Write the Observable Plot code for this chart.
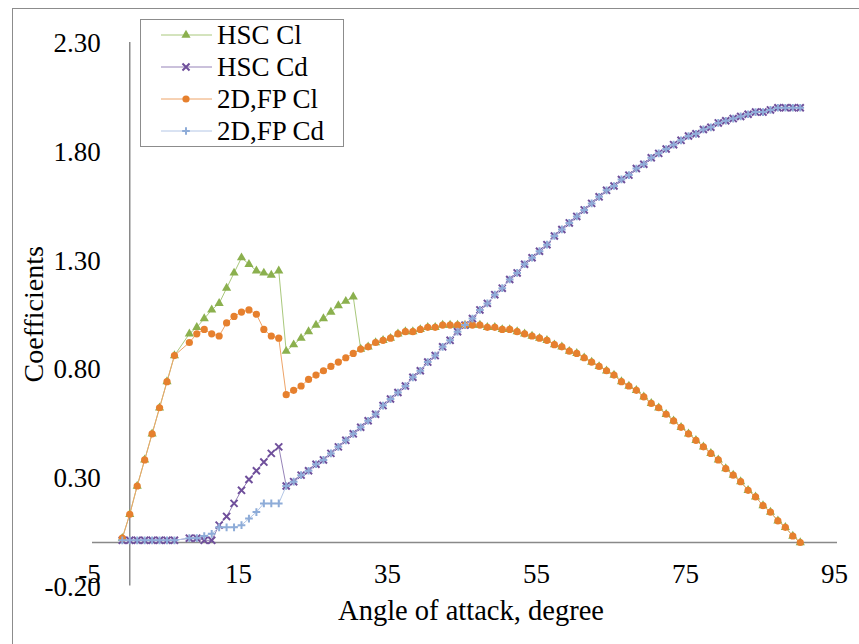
<!DOCTYPE html>
<html>
<head>
<meta charset="utf-8">
<script src="https://cdn.jsdelivr.net/npm/d3@7"></script>
<script src="https://cdn.jsdelivr.net/npm/@observablehq/plot@0.6"></script>
<style>
  html, body { margin: 0; padding: 0; background: #fff; overflow: hidden; }
  #chart { position: relative; width: 859px; height: 644px; }
  #chart svg.plot { position: absolute; left: 0; top: 0; }
  #frame { position: absolute; left: 12px; top: 8px; width: 900px; height: 700px;
           border: 1px solid #8c8c8c; pointer-events: none; }
  #legend { position: absolute; left: 140px; top: 19px; }
</style>
</head>
<body>
<div id="chart"><div id="frame"></div></div>
<script>
// Angle of attack (degrees)
const angles = [-1,0,1,2,3,4,5,6,8,9,10,11,12,13,14,15,16,17,18,19,20,
  21,22,23,24,25,26,27,28,29,30,31,32,33,34,35,36,37,38,39,40,
  41,42,43,44,45,46,47,48,49,50,51,52,53,54,55,56,57,58,59,60,
  61,62,63,64,65,66,67,68,69,70,71,72,73,74,75,76,77,78,79,80,
  81,82,83,84,85,86,87,88,89,90];

// HSC lift coefficient
const hscCl = [0.02,0.13,0.26,0.38,0.50,0.62,0.74,0.86,
  0.96,0.99,1.03,1.07,1.10,1.17,1.24,1.31,1.28,1.25,1.24,1.23,1.25,
  0.88,0.91,0.94,0.97,1.00,1.03,1.06,1.09,1.11,1.13,
  0.89,0.90,0.92,0.93,0.94,0.96,0.97,0.97,0.98,0.99,
  0.99,1.00,1.00,1.00,1.00,1.00,1.00,0.99,0.99,0.98,
  0.98,0.97,0.96,0.95,0.94,0.93,0.91,0.90,0.88,0.87,
  0.85,0.83,0.81,0.79,0.77,0.74,0.72,0.70,0.67,0.64,
  0.62,0.59,0.56,0.53,0.50,0.47,0.44,0.41,0.38,0.34,
  0.31,0.28,0.24,0.21,0.17,0.14,0.10,0.07,0.03,0.00];

// HSC drag coefficient
const hscCd = [0.01,0.01,0.01,0.01,0.01,0.01,0.01,0.01,
  0.02,0.02,0.01,0.01,0.08,0.12,0.18,0.24,0.29,0.33,0.37,0.41,0.44,
  0.26,0.28,0.31,0.33,0.36,0.38,0.41,0.44,0.47,0.50,
  0.53,0.56,0.59,0.63,0.66,0.69,0.72,0.76,0.79,0.83,
  0.86,0.90,0.93,0.97,1.00,1.03,1.07,1.10,1.14,1.17,
  1.21,1.24,1.28,1.31,1.34,1.37,1.41,1.44,1.47,1.50,
  1.53,1.56,1.59,1.62,1.64,1.67,1.69,1.72,1.74,1.77,
  1.79,1.81,1.83,1.85,1.87,1.88,1.90,1.91,1.93,1.94,
  1.95,1.96,1.97,1.98,1.98,1.99,2.00,2.00,2.00,2.00];

// 2D flat plate lift coefficient
const fpCl = [0.02,0.13,0.26,0.38,0.50,0.62,0.74,0.86,
  0.92,0.96,0.98,0.96,0.95,1.01,1.04,1.06,1.07,1.05,0.98,0.95,0.94,
  0.68,0.70,0.72,0.75,0.77,0.79,0.81,0.83,0.85,0.87,
  0.89,0.90,0.92,0.93,0.94,0.96,0.97,0.97,0.98,0.99,
  0.99,1.00,1.00,1.00,1.00,1.00,1.00,0.99,0.99,0.98,
  0.98,0.97,0.96,0.95,0.94,0.93,0.91,0.90,0.88,0.87,
  0.85,0.83,0.81,0.79,0.77,0.74,0.72,0.70,0.67,0.64,
  0.62,0.59,0.56,0.53,0.50,0.47,0.44,0.41,0.38,0.34,
  0.31,0.28,0.24,0.21,0.17,0.14,0.10,0.07,0.03,0.00];

// 2D flat plate drag coefficient
const fpCd = [0.01,0.01,0.01,0.01,0.01,0.01,0.01,0.01,
  0.02,0.02,0.03,0.04,0.07,0.07,0.07,0.08,0.11,0.14,0.18,0.18,0.18,
  0.26,0.28,0.31,0.33,0.36,0.38,0.41,0.44,0.47,0.50,
  0.53,0.56,0.59,0.63,0.66,0.69,0.72,0.76,0.79,0.83,
  0.86,0.90,0.93,0.97,1.00,1.03,1.07,1.10,1.14,1.17,
  1.21,1.24,1.28,1.31,1.34,1.37,1.41,1.44,1.47,1.50,
  1.53,1.56,1.59,1.62,1.64,1.67,1.69,1.72,1.74,1.77,
  1.79,1.81,1.83,1.85,1.87,1.88,1.90,1.91,1.93,1.94,
  1.95,1.96,1.97,1.98,1.98,1.99,2.00,2.00,2.00,2.00];

const seriesNames = ["HSC Cl", "HSC Cd", "2D,FP Cl", "2D,FP Cd"];
const xTicks = [-5, 15, 35, 55, 75, 95];
const yTicks = [-0.2, 0.3, 0.8, 1.3, 1.8, 2.3];

// Appearance of each series: marker symbol, marker colour, line colour
const styles = {
  "HSC Cl":   {symbol: "triangle", r: 3.4, color: "#8bb04e", line: "#a9c87c", stroked: false},
  "HSC Cd":   {symbol: "times",    r: 3.3, color: "#6f4f9b", line: "#9683b8", stroked: true},
  "2D,FP Cl": {symbol: "circle",   r: 3.6, color: "#e6802e", line: "#eea468", stroked: false},
  "2D,FP Cd": {symbol: "plus",     r: 2.6, color: "#8eacd8", line: "#b3c6e6", stroked: true}
};

const valuesBySeries = {"HSC Cl": hscCl, "HSC Cd": hscCd, "2D,FP Cl": fpCl, "2D,FP Cd": fpCd};
const rows = seriesNames.map(name =>
  angles.map((a, i) => ({series: name, angle: a, value: valuesBySeries[name][i]})));

const font = '"Liberation Serif", "Times New Roman", serif';
const axisGray = "#898989";

const seriesMarks = rows.flatMap((data, k) => {
  const s = styles[seriesNames[k]];
  return [
    Plot.line(data, {x: "angle", y: "value", stroke: s.line, strokeWidth: 1}),
    s.stroked
      ? Plot.dot(data, {x: "angle", y: "value", symbol: s.symbol, r: s.r, stroke: s.color, strokeWidth: 2, fill: "none"})
      : Plot.dot(data, {x: "angle", y: "value", symbol: s.symbol, r: s.r, fill: s.color, stroke: "none"})
  ];
});

const chart = Plot.plot({
  width: 859,
  height: 644,
  marginLeft: 92,
  marginRight: 22,
  marginTop: 42,
  marginBottom: 58.5,
  x: {domain: [-5, 95], axis: null},
  y: {domain: [-0.2, 2.3], axis: null},
  style: {fontFamily: font, fontSize: "27px", background: "transparent", color: "#000", overflow: "visible"},
  marks: [
    // axes crossing at the origin
    Plot.ruleY([0], {x1: -5, x2: 95, stroke: axisGray, strokeWidth: 1.5}),
    Plot.ruleX([0], {y1: -0.2, y2: 2.3, stroke: axisGray, strokeWidth: 1.5}),
    // tick labels
    Plot.text(yTicks, {x: 0, y: d => d, text: d => d.toFixed(2), textAnchor: "end", lineAnchor: "middle", dx: -29, dy: 1, fontSize: 27, fill: "#000"}),
    Plot.text(xTicks, {x: d => d, y: -0.2, text: d => String(d), lineAnchor: "middle", dx: -3, dy: -12, fontSize: 27, fill: "#000"}),
    // axis titles
    Plot.text(["Angle of attack, degree"], {frameAnchor: "bottom", textAnchor: "middle", lineAnchor: "middle", dy: 25, dx: 6, fontSize: 28.5, fill: "#000"}),
    Plot.text(["Coefficients"], {frameAnchor: "left", textAnchor: "middle", lineAnchor: "middle", dx: -58, rotate: -90, fontSize: 28, fill: "#000"}),
    ...seriesMarks
  ]
});
document.getElementById("chart").prepend(chart);

// Legend box drawn over the upper-left of the plot
const legend = d3.select("#chart").append("svg")
  .attr("id", "legend")
  .attr("width", 205).attr("height", 129)
  .style("font-family", font).style("font-size", "27px");
legend.append("rect")
  .attr("x", 0.5).attr("y", 0.5).attr("width", 203).attr("height", 127)
  .attr("fill", "#fff").attr("stroke", "#8c8c8c");
const symbolTypes = {triangle: d3.symbolTriangle, times: d3.symbolTimes, circle: d3.symbolCircle, plus: d3.symbolPlus};
seriesNames.forEach((name, i) => {
  const s = styles[name];
  const cy = 16 + 32 * i;
  const g = legend.append("g");
  g.append("line").attr("x1", 21).attr("x2", 72).attr("y1", cy).attr("y2", cy)
    .attr("stroke", s.line).attr("stroke-width", 1);
  g.append("path")
    .attr("transform", `translate(46,${cy})`)
    .attr("d", d3.symbol(symbolTypes[s.symbol], s.r * s.r * Math.PI)())
    .attr("fill", s.stroked ? "none" : s.color)
    .attr("stroke", s.stroked ? s.color : "none")
    .attr("stroke-width", s.stroked ? 2 : 0);
  g.append("text").attr("x", 77).attr("y", cy).attr("dy", "0.33em").text(name);
});
</script>
</body>
</html>
